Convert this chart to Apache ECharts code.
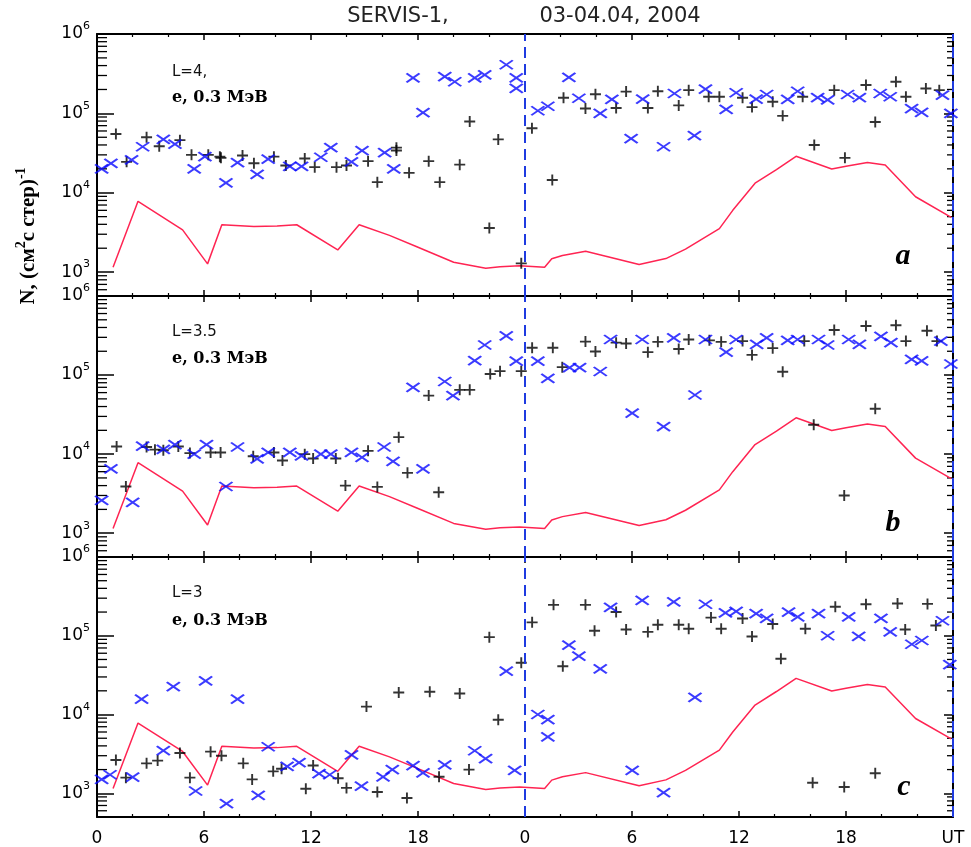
<!DOCTYPE html>
<html><head><meta charset="utf-8">
<script src="https://cdn.jsdelivr.net/npm/echarts@6/dist/echarts.min.js"></script>
<style>html,body{margin:0;padding:0;background:#fff}#c{width:971px;height:847px}</style>
</head><body><div id="c"></div>
<script>
// ---------- data ----------
const xTickLabels = ['0','6','12','18','0','6','12','18','UT'];
const titleParts = ['SERVIS-1,', '03-04.04, 2004'];
const panelNames = ['L=4,', 'L=3.5', 'L=3'];
const energyLabel = 'e, 0.3 МэВ';
const panelLetters = ['a', 'b', 'c'];
const dayBoundaries = [24, 48];

// red model curve (same in every panel): [hour, flux]
const redLine = [[0.9,1150],[2.3,7800],[4.8,3400],[6.2,1270],[7.0,3950],[8.8,3760],[10.1,3800],[11.2,3950],[13.5,1900],[14.7,3950],[16.4,2900],[17.9,2100],[20.0,1330],[21.8,1120],[22.6,1170],[23.7,1200],[25.1,1150],[25.5,1470],[26.1,1620],[27.4,1830],[30.4,1250],[31.9,1480],[33.0,1950],[34.9,3530],[35.65,6000],[36.9,13200],[38.1,19600],[39.2,28800],[41.2,19900],[42.0,21500],[43.2,24000],[44.2,22300],[45.9,8900],[47.9,4900]];

// panel a (L=4)
const aPlus = [[1.06,55000],[1.66,24500],[2.78,50000],[3.49,38500],[4.65,46000],[5.30,30000],[6.24,30000],[6.89,28500],[6.95,27500],[8.16,29500],[8.80,23500],[9.92,28500],[10.59,22000],[11.65,27000],[12.21,21000],[13.43,21000],[13.99,22000],[15.2,25000],[15.72,13600],[16.79,37000],[16.79,34000],[17.5,17800],[18.6,25000],[19.22,13600],[20.34,22600],[20.9,79000],[22.0,3600],[22.5,47000],[23.79,1290],[24.39,65000],[25.53,14500],[26.16,157000],[27.39,115000],[27.95,174000],[29.11,117000],[29.67,188000],[30.89,117000],[31.45,190000],[32.62,126000],[33.18,196000],[34.3,162000],[34.9,162000],[36.2,157000],[36.73,120000],[37.89,140000],[38.45,93000],[39.57,162000],[40.22,40000],[41.34,196000],[41.94,27500],[43.12,228000],[43.64,78000],[44.80,250000],[45.36,162000],[46.48,206000],[47.23,196000]];
const aCross = [[0.26,20000],[0.78,23500],[1.94,26000],[2.56,38000],[3.72,47000],[4.37,41000],[5.45,20000],[6.05,28500],[7.23,13300],[7.88,24000],[8.98,17000],[9.6,26500],[10.81,21500],[11.47,21500],[12.55,28000],[13.11,37000],[14.27,24500],[14.86,34000],[16.13,32000],[16.64,20000],[17.72,280000],[18.28,102000],[19.5,290000],[20.06,250000],[21.18,280000],[21.74,305000],[22.95,410000],[23.51,280000],[23.51,206000],[24.72,108000],[25.28,123000],[26.46,284000],[27.02,155000],[28.22,100000],[28.87,150000],[29.95,48000],[30.6,151000],[31.77,38000],[32.38,178000],[33.5,52500],[34.12,202000],[35.28,112000],[35.84,182000],[36.96,151000],[37.55,173000],[38.73,150000],[39.29,190000],[40.41,158000],[40.97,148000],[42.09,173000],[42.75,158000],[43.92,178000],[44.48,162000],[45.68,115000],[46.24,103000],[47.41,170000],[47.88,100000]];

// panel b (L=3.5)
const bPlus = [[1.10,12500],[1.62,3900],[2.78,12300],[3.25,11400],[3.72,11200],[4.56,12500],[5.21,10300],[6.37,10500],[6.93,10500],[8.76,9400],[9.92,10500],[10.40,8300],[11.65,10000],[12.12,8800],[13.39,8800],[13.93,4000],[15.2,11000],[15.72,3850],[16.92,16400],[17.41,5800],[18.60,55000],[19.16,3300],[20.34,65000],[20.9,65000],[22.05,103000],[22.6,112000],[23.79,112000],[24.4,222000],[25.56,222000],[26.09,126000],[27.39,265000],[27.95,199000],[29.11,257000],[29.67,251000],[30.89,195000],[31.45,263000],[32.62,214000],[33.18,282000],[34.34,275000],[35.0,263000],[36.2,269000],[36.73,180000],[37.89,219000],[38.45,110000],[39.66,269000],[40.19,23500],[41.34,372000],[41.9,3000],[43.12,418000],[43.64,37500],[44.80,427000],[45.36,269000],[46.54,363000],[47.1,269000]];
const bCross = [[0.26,2600],[0.78,6500],[2.0,2450],[2.56,12600],[3.72,11500],[4.37,13200],[5.45,10000],[6.14,13200],[7.23,3900],[7.88,12300],[8.98,8700],[9.6,10500],[10.81,10500],[11.47,9500],[12.55,10000],[13.11,10000],[14.27,10500],[14.86,9100],[16.1,12300],[16.6,8100],[17.72,70000],[18.28,6500],[19.5,83000],[19.96,55000],[21.18,152000],[21.74,240000],[22.95,313000],[23.51,150000],[24.72,150000],[25.28,91000],[26.5,124000],[27.06,124000],[28.22,111000],[28.8,282000],[30.01,33000],[30.57,282000],[31.77,22300],[32.34,295000],[33.53,56000],[34.12,282000],[35.28,195000],[35.84,282000],[36.99,245000],[37.55,295000],[38.73,275000],[39.29,282000],[40.46,282000],[40.97,240000],[42.15,282000],[42.75,245000],[43.96,309000],[44.52,257000],[45.68,158000],[46.24,151000],[47.32,269000],[47.88,138000]];

// panel c (L=3)
const cPlus = [[1.06,2650],[1.62,1580],[2.78,2400],[3.40,2600],[4.65,3250],[5.21,1580],[6.37,3380],[6.98,3000],[8.2,2400],[8.70,1500],[9.88,1900],[10.35,2050],[11.71,1140],[12.12,2250],[13.52,1550],[13.99,1170],[15.11,12600],[15.72,1040],[16.92,19000],[17.38,870],[18.66,19500],[19.18,1620],[20.34,18500],[20.86,2000],[22.0,96000],[22.5,8600],[23.79,45500],[24.4,148000],[25.6,247000],[26.12,41000],[27.39,247000],[27.9,116000],[29.11,200000],[29.67,120000],[30.89,112000],[31.45,138000],[32.62,138000],[33.18,123000],[34.43,170000],[35.0,123000],[36.2,166000],[36.73,98000],[37.89,141000],[38.35,51000],[39.72,123000],[40.13,1360],[41.4,234000],[41.9,1200],[43.12,251000],[43.64,1800],[44.89,257000],[45.32,120000],[46.57,254000],[47.04,135000]];
const cCross = [[0.26,1500],[0.73,1720],[2.0,1600],[2.5,15700],[3.72,3480],[4.28,22600],[5.53,1070],[6.09,26700],[7.26,740],[7.88,15700],[9.04,940],[9.6,3900],[10.66,2200],[11.33,2450],[12.45,1780],[13.05,1720],[14.27,3080],[14.83,1230],[16.04,1620],[16.56,2000],[17.72,2240],[18.28,1820],[19.5,2290],[21.18,3470],[21.79,2750],[22.95,35600],[23.42,1950],[24.72,10000],[25.28,8600],[25.28,5200],[26.46,76000],[27.02,55000],[28.22,38000],[28.8,229000],[30.01,1950],[30.57,282000],[31.77,1020],[32.34,269000],[33.53,16500],[34.12,251000],[35.24,195000],[35.84,204000],[36.96,191000],[37.55,166000],[38.78,200000],[39.29,174000],[40.46,191000],[40.97,100000],[42.15,174000],[42.71,98000],[43.96,166000],[44.48,112000],[45.69,78000],[46.25,87000],[47.41,155000],[47.82,43000]];

const plusSets = [aPlus, bPlus, cPlus];
const crossSets = [aCross, bCross, cCross];

// ---------- layout / style ----------
const Y_MIN = 500, Y_MAX = 1e6;
const X_MAX = 48;
const tops = [34, 296, 557];
const heights = [262, 261, 261];
const GL = 97, GR = 18;
const BLUE = '#0a0aff', RED = '#ff2452', DASH = '#1f3be0';
const SANS = 'DejaVu Sans';

const minorVals = [];
for (let n = 2; n <= 5; n++) for (let k = 2; k <= 9; k++) {
  const v = k * Math.pow(10, n);
  if (v > Y_MIN && v < Y_MAX) minorVals.push(v);
}

function isPow10(v) { const e = Math.log10(v); return Math.abs(e - Math.round(e)) < 1e-6; }

const grid = [], xAxis = [], yAxis = [], series = [];
for (let i = 0; i < 3; i++) {
  grid.push({ left: GL, right: GR, top: tops[i], height: heights[i] });
  const tickStyle = { color: '#000', width: 1.5 };
  const xBase = {
    type: 'value', gridIndex: i, min: 0, max: X_MAX, interval: 6,
    axisLine: { show: true, onZero: false, lineStyle: { color: '#000', width: 2 } },
    axisTick: { show: true, inside: true, length: 6, lineStyle: tickStyle },
    minorTick: { show: true, splitNumber: 3, length: 3, lineStyle: { color: '#000', width: 1.2 } },
    splitLine: { show: false }
  };
  xAxis.push(Object.assign({}, xBase, {
    position: 'bottom',
    axisLabel: { show: i === 2, color: '#000', fontSize: 17, fontFamily: SANS, margin: 13,
      formatter: v => xTickLabels[Math.round(v / 6)] }
  }));
  xAxis.push(Object.assign({}, xBase, { position: 'top', axisLabel: { show: false } }));

  const yBase = {
    type: 'log', logBase: 10, gridIndex: i, min: Y_MIN, max: Y_MAX,
    axisLine: { show: true, onZero: false, lineStyle: { color: '#000', width: 2 } },
    splitLine: { show: false }, minorTick: { show: false }
  };
  yAxis.push(Object.assign({}, yBase, {
    position: 'left',
    axisTick: { show: true, inside: true, length: 17, lineStyle: tickStyle },
    axisLabel: {
      show: true, margin: 7, showMinLabel: true, showMaxLabel: true,
      formatter: v => isPow10(v) ? '{b|10}{s|' + Math.round(Math.log10(v)) + '}' : '',
      rich: {
        b: { fontSize: 17, fontFamily: SANS, color: '#000', lineHeight: 26 },
        s: { fontSize: 11, fontFamily: SANS, color: '#000', verticalAlign: 'top' }
      }
    }
  }));
  yAxis.push(Object.assign({}, yBase, {
    position: 'right',
    axisTick: { show: true, inside: true, length: 9, lineStyle: tickStyle },
    axisLabel: { show: false }
  }));

  const xi = i * 2, yi = i * 2;
  // minor log ticks on both vertical axes
  series.push({
    type: 'custom', xAxisIndex: xi, yAxisIndex: yi, silent: true, clip: false,
    data: minorVals.map(v => [0, v]),
    renderItem: (params, api) => {
      const v = api.value(1);
      const pL = api.coord([0, v]);
      const pR = api.coord([X_MAX, v]);
      return { type: 'group', children: [
        { type: 'line', shape: { x1: pL[0], y1: pL[1], x2: pL[0] + 10, y2: pL[1] }, style: { stroke: '#000', lineWidth: 1.3 } },
        { type: 'line', shape: { x1: pR[0] - 6, y1: pR[1], x2: pR[0], y2: pR[1] }, style: { stroke: '#000', lineWidth: 1.3 } }
      ] };
    }
  });
  series.push({
    type: 'line', xAxisIndex: xi, yAxisIndex: yi, data: redLine, showSymbol: false, silent: true,
    lineStyle: { color: RED, width: 1.5 }, z: 3,
    markLine: {
      silent: true, symbol: 'none', label: { show: false },
      lineStyle: { color: DASH, width: 2, type: [11, 6] },
      data: dayBoundaries.map(x => ({ xAxis: x }))
    }
  });
  series.push({
    type: 'scatter', xAxisIndex: xi, yAxisIndex: yi, data: plusSets[i], silent: true,
    symbol: 'path://M5,0L5,10M0,5L10,5', symbolSize: 11,
    itemStyle: { color: '#000', borderColor: '#000', borderWidth: 1.9 }, z: 4
  });
  series.push({
    type: 'scatter', xAxisIndex: xi, yAxisIndex: yi, data: crossSets[i], silent: true,
    symbol: 'path://M0,0L13,9M13,0L0,9', symbolSize: [13, 9],
    itemStyle: { color: BLUE, borderColor: BLUE, borderWidth: 2 }, z: 5
  });
}

const graphic = [];
const nameY = [72, 332, 593], energyY = [98, 359, 621];
const letterPos = [[903, 256], [893, 523], [904, 787]];
for (let i = 0; i < 3; i++) {
  graphic.push({ type: 'text', x: 172, y: nameY[i], z: 10,
    style: { text: panelNames[i], font: '15px "DejaVu Sans"', fill: '#111', verticalAlign: 'middle' } });
  graphic.push({ type: 'text', x: 172, y: energyY[i], z: 10,
    style: { text: energyLabel, font: 'bold 16px "DejaVu Serif"', fill: '#000', verticalAlign: 'middle' } });
  graphic.push({ type: 'text', x: letterPos[i][0], y: letterPos[i][1], z: 10,
    style: { text: panelLetters[i], font: 'italic bold 30px "Liberation Serif"', fill: '#000', align: 'center', verticalAlign: 'middle' } });
}
graphic.push({
  type: 'text', x: 29, y: 236, rotation: Math.PI / 2, z: 10,
  style: {
    text: '{m|N, (см}{s|2}{m|с стер)}{s|-1}',
    align: 'center', verticalAlign: 'middle',
    rich: {
      m: { font: 'bold 21px "Liberation Serif"', fill: '#000', lineHeight: 30 },
      s: { font: 'bold 14px "Liberation Serif"', fill: '#000', verticalAlign: 'top' }
    }
  }
});

// title pieces centred where the reference puts them
const titleCenters = [398, 620];
const title = titleParts.map((t, k) => ({
  text: t, left: titleCenters[k], top: 6, padding: 0, textAlign: 'center',
  textStyle: { fontFamily: SANS, fontWeight: 'normal', fontSize: 21, color: '#222' }
}));

const option = {
  animation: false,
  backgroundColor: '#fff',
  title, grid, xAxis, yAxis, series, graphic
};
const chart = echarts.init(document.getElementById('c'), null, { renderer: 'canvas' });
chart.setOption(option);
</script>
</body></html>
